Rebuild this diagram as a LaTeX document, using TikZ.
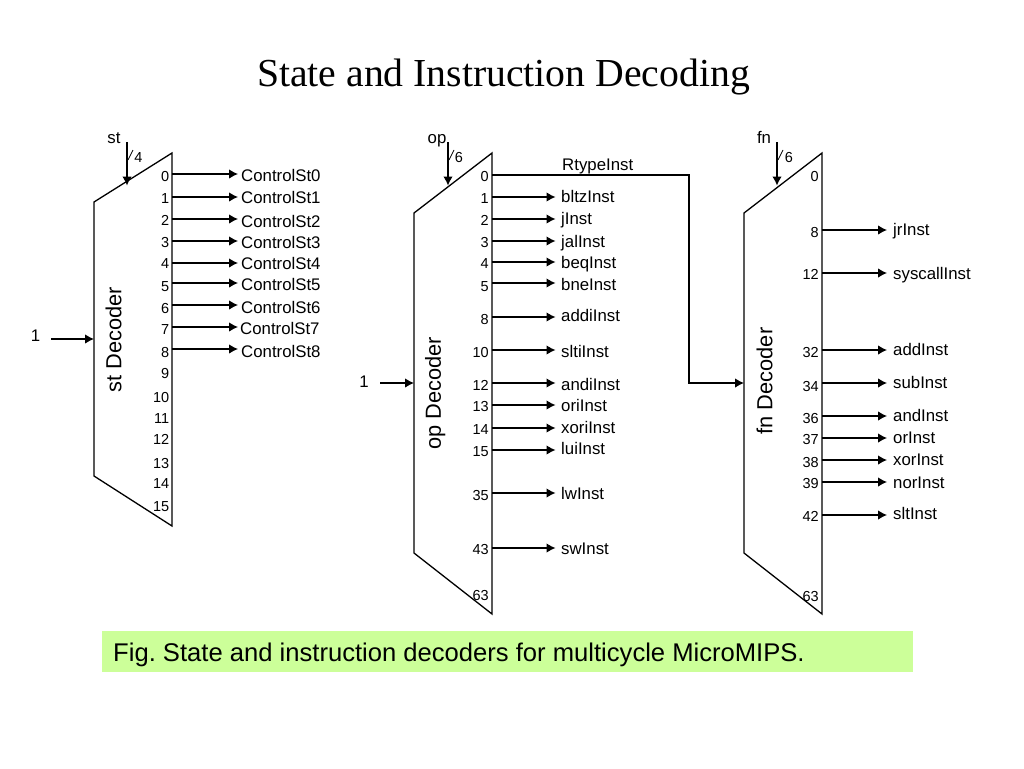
\documentclass[tikz,border=0pt]{standalone}
\usepackage{fontspec}
\setmainfont{Liberation Sans}
\newfontfamily\titlefont{Liberation Serif}
\usetikzlibrary{arrows.meta}
\tikzset{
  decoder/.style={draw=black,line width=1.3pt,line join=miter},
  wire/.style={draw=black,line width=1.2pt,-{Latex[length=9pt,width=9.5pt]}},
  plainwire/.style={draw=black,line width=0.9pt},
  pinnum/.style={anchor=east,inner sep=0pt,text height=10.5pt,text depth=0pt,font=\fontsize{14.5}{14.5}\selectfont},
  pinlabel/.style={anchor=west,inner sep=0pt,text height=12pt,text depth=0pt,font=\fontsize{16.8}{16.8}\selectfont},
  declabel/.style={rotate=90,inner sep=0pt,text height=15.7pt,text depth=0pt,font=\fontsize{21.8}{21.8}\selectfont},
  toplabel/.style={inner sep=0pt,text height=12pt,text depth=0pt,font=\fontsize{16.8}{16.8}\selectfont},
  widthnum/.style={inner sep=0pt,text height=10.5pt,text depth=0pt,font=\fontsize{14.5}{14.5}\selectfont}
}
\newcommand{\stpin}[6]{%
  \coordinate (st#1a) at (172,#2);
  \coordinate (st#1b) at (238,#2);
  \node[pinnum] (st#1n) at (169.5,#3) {#1};
  \node[pinlabel] (st#1l) at (#6,#5) {#4};
  \draw[wire] (st#1a) -- (st#1b);
}
\newcommand{\oppin}[5]{%
  \coordinate (op#1a) at (492,#2);
  \coordinate (op#1b) at (555.5,#2);
  \node[pinnum] (op#1n) at (489,#3) {#1};
  \node[pinlabel] (op#1l) at (561,#5) {#4};
  \draw[wire] (op#1a) -- (op#1b);
}
\newcommand{\fnpin}[5]{%
  \coordinate (fn#1a) at (822,#2);
  \coordinate (fn#1b) at (887,#2);
  \node[pinnum] (fn#1n) at (819,#3) {#1};
  \node[pinlabel] (fn#1l) at (893,#5) {#4};
  \draw[wire] (fn#1a) -- (fn#1b);
}
\newcommand{\topbus}[8]{%
  \coordinate (#1bt) at (#2,142);
  \coordinate (#1bb) at (#2,185.5);
  \coordinate (#1sa) at (#2+1,160);
  \coordinate (#1sb) at (#2+6,150);
  \draw[wire] (#1bt) -- (#1bb);
  \draw[plainwire,line width=0.8pt] (#1sa) -- (#1sb);
  \node[toplabel] (#1name) at (#4,#7) {#3};
  \node[widthnum] (#1w) at (#6,#8) {#5};
}
\begin{document}
\begin{tikzpicture}[x=1pt,y=-1pt]
\useasboundingbox (0,0) rectangle (1024,768);
\fill[white] (0,0) rectangle (1024,768);

\node[inner sep=0pt,text height=26.5pt,text depth=0pt,font=\titlefont\fontsize{39.7}{39.7}\selectfont] (title) at (503.5,73.5) {State and Instruction Decoding};

% decoders
\draw[decoder] (94,202) coordinate (stA) -- (172,153) -- (172,526) -- (94,476) -- cycle;
\draw[decoder] (414,213) coordinate (opA) -- (492,153) -- (492,614) -- (414,553) -- cycle;
\draw[decoder] (744,213) coordinate (fnA) -- (822,153) -- (822,614) -- (744,553) -- cycle;

\node[declabel] (stdec) at (113.5,340) {st Decoder};
\node[declabel] (opdec) at (433,393.5) {op Decoder};
\node[declabel] (fndec) at (764.5,381) {fn Decoder};

% top buses
\topbus{st}{127}{st}{114}{4}{138.5}{137}{157}
\topbus{op}{448}{op}{437}{6}{459}{137}{157}
\topbus{fn}{777}{fn}{764}{6}{789}{137}{157}

% enable inputs
\node[toplabel] (stone) at (35.5,335) {1};
\coordinate (stin) at (51,339);
\coordinate (stend) at (94,339);
\draw[wire] (stin) -- (stend);
\node[toplabel] (opone) at (364,381) {1};
\coordinate (opin) at (380,383);
\coordinate (opend) at (414,383);
\draw[wire] (opin) -- (opend);

% st decoder outputs
\stpin{0}{174}{176}{ControlSt0}{175}{241}
\stpin{1}{197}{198}{ControlSt1}{197}{241}
\stpin{2}{219}{220}{ControlSt2}{221}{241}
\stpin{3}{241}{242}{ControlSt3}{242}{241}
\stpin{4}{263}{263}{ControlSt4}{263}{241}
\stpin{5}{283}{286}{ControlSt5}{284}{241}
\stpin{6}{305}{308}{ControlSt6}{307}{241}
\stpin{7}{327}{329}{ControlSt7}{328}{240}
\stpin{8}{349}{352}{ControlSt8}{351}{241}
\node[pinnum] (st9n) at (169.5,373) {9};
\node[pinnum] (st10n) at (169.5,397) {10};
\node[pinnum] (st11n) at (169.5,418) {11};
\node[pinnum] (st12n) at (169.5,439) {12};
\node[pinnum] (st13n) at (169.5,463) {13};
\node[pinnum] (st14n) at (169.5,483) {14};
\node[pinnum] (st15n) at (169.5,506) {15};

% op decoder outputs
\oppin{1}{197}{198}{bltzInst}{196}
\oppin{2}{219}{220}{jInst}{218}
\oppin{3}{241}{242}{jalInst}{241}
\oppin{4}{262}{263}{beqInst}{262}
\oppin{5}{283}{286}{bneInst}{284}
\oppin{8}{317}{319}{addiInst}{315}
\oppin{10}{350}{352}{sltiInst}{351}
\oppin{12}{383}{385}{andiInst}{384}
\oppin{13}{405}{406}{oriInst}{405}
\oppin{14}{428}{429}{xoriInst}{427}
\oppin{15}{450}{451}{luiInst}{448}
\oppin{35}{493}{495}{lwInst}{493}
\oppin{43}{548}{549}{swInst}{548}
\node[pinnum] (op0n) at (489,176) {0};
\node[pinnum] (op63n) at (489,595) {63};

% R-type link into fn decoder
\node[pinlabel] (rtype) at (562,164) {RtypeInst};
\coordinate (rta) at (492,175);
\coordinate (rtb) at (689,175);
\coordinate (rtc) at (689,383);
\coordinate (rtd) at (744,383);
\draw[wire] (rta) -- (rtb) -- (rtc) -- (rtd);

% fn decoder outputs
\fnpin{8}{230}{232}{jrInst}{229}
\fnpin{12}{273}{274}{syscallInst}{273}
\fnpin{32}{350}{352}{addInst}{349}
\fnpin{34}{383}{386}{subInst}{382}
\fnpin{36}{416}{418}{andInst}{415}
\fnpin{37}{438}{439}{orInst}{437}
\fnpin{38}{460}{462}{xorInst}{459}
\fnpin{39}{482}{483}{norInst}{482}
\fnpin{42}{515}{516}{sltInst}{513}
\node[pinnum] (fn0n) at (819,176) {0};
\node[pinnum] (fn63n) at (819,596) {63};

% caption
\fill[fill={rgb,255:red,204;green,255;blue,153}] (102,631) rectangle (913,672);
\node[anchor=west,inner sep=0pt,text height=18.4pt,text depth=0pt,font=\frenchspacing\fontsize{25.6}{25.6}\selectfont] (caption) at (113,651.8) {Fig. State and instruction decoders for multicycle MicroMIPS.};
\end{tikzpicture}
\end{document}
